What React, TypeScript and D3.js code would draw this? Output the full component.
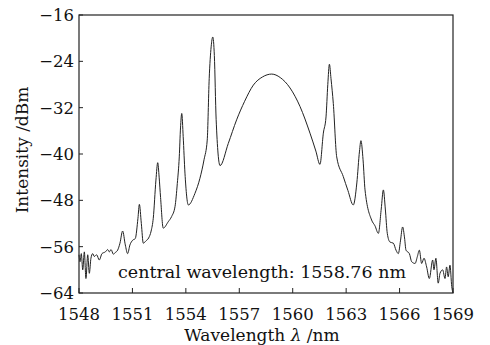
import React from "react";
import * as d3 from "d3";

// spectrum (nm, dBm)
const wavelength = [
  1548.0, 1548.06, 1548.13, 1548.21, 1548.3, 1548.39, 1548.49, 1548.58, 1548.67, 1548.77,
  1548.86, 1548.99, 1549.14, 1549.29, 1549.48, 1549.61, 1549.7, 1549.8, 1549.93, 1550.04,
  1550.17, 1550.3, 1550.45, 1550.6, 1550.73, 1550.86, 1551.01, 1551.16, 1551.31, 1551.39,
  1551.5, 1551.61, 1551.76, 1551.91, 1552.05, 1552.17, 1552.32, 1552.42, 1552.5, 1552.58,
  1552.73, 1553.01, 1553.2, 1553.39, 1553.52, 1553.63, 1553.7, 1553.77, 1553.85, 1553.95,
  1554.14, 1554.51, 1554.79, 1555.02, 1555.2, 1555.31, 1555.42, 1555.51, 1555.6, 1555.7,
  1555.92, 1556.38, 1556.85, 1557.3, 1557.79, 1558.3, 1558.82, 1559.3, 1559.85, 1560.41,
  1560.97, 1561.3, 1561.53, 1561.72, 1561.87, 1561.97, 1562.06, 1562.15, 1562.28, 1562.47,
  1562.84, 1563.1, 1563.4, 1563.6, 1563.75, 1563.83, 1563.95, 1564.06, 1564.43, 1564.62,
  1564.81, 1564.97, 1565.09, 1565.2, 1565.31, 1565.46, 1565.65, 1565.8, 1565.93, 1566.05,
  1566.17, 1566.28, 1566.36, 1566.55, 1566.68, 1566.87, 1567.0, 1567.11, 1567.24, 1567.37,
  1567.52, 1567.67, 1567.86, 1567.93, 1568.04, 1568.17, 1568.27, 1568.42, 1568.55, 1568.64,
  1568.73, 1568.83, 1568.93, 1569.0,
];
const intensity = [
  -57.4, -58.6, -57.2, -60.0, -56.9, -61.5, -57.4, -60.6, -58.0, -57.2,
  -57.7, -57.4, -58.3, -57.2, -56.9, -56.5, -56.9, -56.5, -57.3, -57.0,
  -56.6, -55.4, -53.3, -55.7, -57.2, -55.7, -54.9, -54.6, -51.1, -48.7,
  -52.0, -55.4, -55.0, -54.5, -53.3, -51.1, -44.5, -41.5, -44.0, -47.5,
  -52.8, -51.7, -50.8, -49.1, -45.1, -40.5, -35.5, -33.0, -37.0, -43.3,
  -48.8, -46.8, -44.2, -41.0, -37.6, -27.0, -21.5, -19.8, -23.0, -34.0,
  -42.0, -38.2, -34.1, -30.9, -28.1, -26.7, -26.2, -26.8, -28.6, -31.8,
  -36.4, -39.5, -41.8, -36.4, -33.6, -28.0, -24.5, -27.0, -31.3, -40.5,
  -43.9, -46.3, -48.8, -45.0, -39.5, -37.7, -41.0, -46.2, -51.4, -52.4,
  -53.7, -49.5, -46.2, -49.5, -53.7, -55.2, -55.4, -56.6, -57.2, -55.0,
  -52.6, -54.5, -56.6, -57.2, -58.6, -58.9, -57.7, -56.6, -58.9, -58.0,
  -59.5, -61.5, -58.3, -60.0, -58.0, -62.3, -60.6, -60.0, -61.5, -59.5,
  -61.2, -59.2, -62.9, -64.0,
];

const xTicks = [1548, 1551, 1554, 1557, 1560, 1563, 1566, 1569];
const yTicks = [-64, -56, -48, -40, -32, -24, -16];

const W = 490;
const H = 345;
const plot = { left: 79, right: 453, top: 15, bottom: 293 };
const font = "'DejaVu Serif', serif";

export default function App() {
  const x = d3.scaleLinear().domain([1548, 1569]).range([plot.left, plot.right]);
  const y = d3.scaleLinear().domain([-64, -16]).range([plot.bottom, plot.top]);

  const pts: [number, number][] = wavelength.map((w, i) => [w, intensity[i]]);
  const line = d3
    .line<[number, number]>()
    .x(d => x(d[0]))
    .y(d => y(d[1]))
    .curve(d3.curveMonotoneX);

  return (
    <svg
      width={W}
      height={H}
      style={{ position: "absolute", left: 0, top: 0, background: "#fff" }}
      fontFamily={font}
    >
      <path d={line(pts) || ""} fill="none" stroke="#222" strokeWidth={1} />

      <rect
        x={plot.left}
        y={plot.top}
        width={plot.right - plot.left}
        height={plot.bottom - plot.top}
        fill="none"
        stroke="#222"
        strokeWidth={1.2}
      />

      {xTicks.map(t => (
        <g key={`x${t}`}>
          <line x1={x(t)} x2={x(t)} y1={plot.bottom} y2={plot.bottom - 5} stroke="#222" />
          <text x={x(t)} y={320} textAnchor="middle" fontSize={16.5} fill="#111">
            {t}
          </text>
        </g>
      ))}

      {yTicks.map(t => (
        <g key={`y${t}`}>
          <line x1={plot.left} x2={plot.left + 4} y1={y(t)} y2={y(t)} stroke="#222" />
          <text x={74} y={y(t)} dy="0.36em" textAnchor="end" fontSize={16.5} fill="#111">
            {"\u2212" + Math.abs(t)}
          </text>
        </g>
      ))}

      <text x={262} y={278} textAnchor="middle" fontSize={17.5} fill="#111">
        central wavelength: 1558.76 nm
      </text>

      <text x={262} y={341} textAnchor="middle" fontSize={17} fill="#111">
        Wavelength <tspan fontStyle="italic">λ</tspan> /nm
      </text>

      <text
        transform="translate(28,150) rotate(-90)"
        textAnchor="middle"
        fontSize={17}
        fill="#111"
      >
        Intensity /dBm
      </text>
    </svg>
  );
}
